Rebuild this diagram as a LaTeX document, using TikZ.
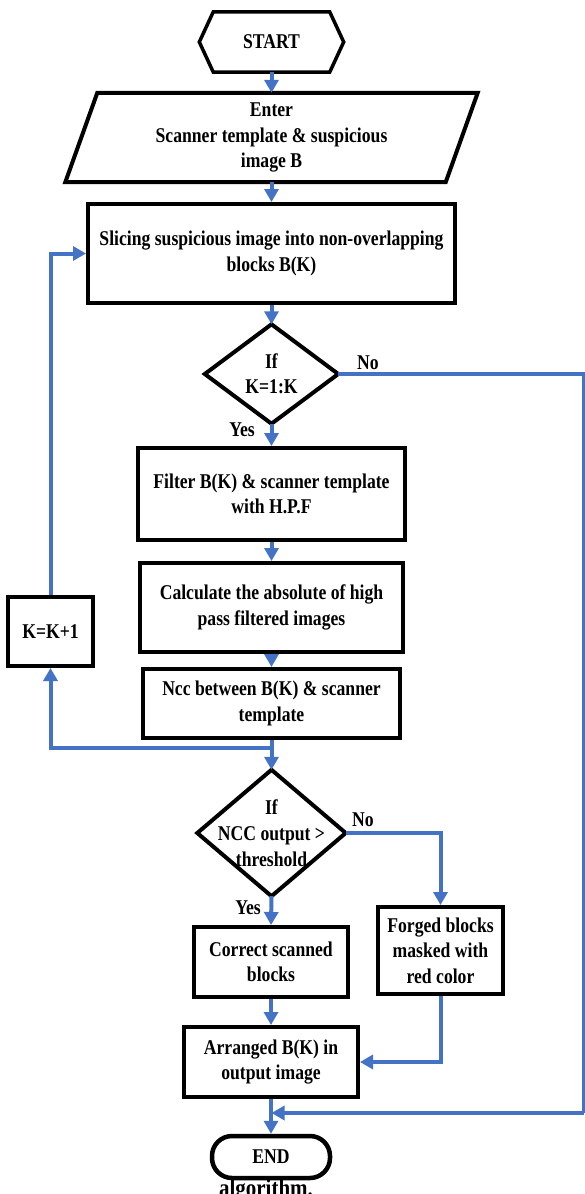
\documentclass[tikz,border=0pt]{standalone}
\usepackage{fontspec}
\setmainfont{Liberation Serif}[FakeStretch=0.84]
\usetikzlibrary{arrows.meta}
\definecolor{flowblue}{RGB}{68,114,196}
\tikzset{
  txt/.style={font=\bfseries\fontsize{21}{25.5}\selectfont, align=center, inner sep=0pt},
  stepbox/.style={txt, draw=black, line width=4pt, fill=white},
  shapeonly/.style={txt, draw=none},
  outline/.style={draw=black, line width=4pt, line join=miter},
  flow/.style={draw=flowblue, line width=4pt},
  flowarrow/.style={flow, -{Triangle[length=13pt,width=14pt]}},
  lbl/.style={font=\bfseries\fontsize{21}{25}\selectfont, inner sep=0pt}
}
\begin{document}
\begin{tikzpicture}[x=1pt,y=-1pt]
\useasboundingbox (0,0) rectangle (585,1194);
\fill[white] (0,0) rectangle (585,1194);

% START hexagon
\node[shapeonly, minimum width=144pt, minimum height=60pt] (start) at (271.5,42) {START};
\draw[outline, line width=3.5pt] (start.west) -- ([xshift=14pt]start.north west) -- ([xshift=-14pt]start.north east)
  -- (start.east) -- ([xshift=-14pt]start.south east) -- ([xshift=14pt]start.south west) -- cycle;

% input parallelogram
\node[shapeonly, minimum width=380pt, minimum height=89pt] (in) at (271.5,137.5) {Enter\\Scanner template \& suspicious\\image B};
\draw[outline] ([xshift=-16pt]in.south west) -- ([xshift=16pt]in.north west) -- ([xshift=16pt]in.north east)
  -- ([xshift=-16pt]in.south east) -- cycle;

\node[stepbox, minimum width=367pt, minimum height=99pt] (slice) at (271.5,253.5) {Slicing suspicious image into non-overlapping\\blocks B(K)};

% decision 1
\node[shapeonly, minimum width=133pt, minimum height=99pt] (d1) at (271.5,374) {If\\K=1:K};
\draw[outline] (d1.north) -- (d1.east) -- (d1.south) -- (d1.west) -- cycle;

\node[stepbox, minimum width=267pt, minimum height=92pt] (filter) at (271.5,494) {Filter B(K) \& scanner template\\with H.P.F};
\node[stepbox, minimum width=263pt, minimum height=89pt] (calc) at (271.5,607.5) {Calculate the absolute of high\\pass filtered images};
\node[stepbox, minimum width=257pt, minimum height=69pt] (ncc) at (271.5,703.5) {Ncc between B(K) \& scanner\\template};
\node[stepbox, minimum width=85pt, minimum height=69pt] (kbox) at (50.5,631.5) {K=K+1};

% decision 2
\node[shapeonly, minimum width=148pt, minimum height=126pt, font=\bfseries\fontsize{21}{26}\selectfont] (d2) at (271.5,833) {If\\NCC output >\\threshold};
\draw[outline] (d2.north) -- (d2.east) -- (d2.south) -- (d2.west) -- cycle;

\node[stepbox, minimum width=154pt, minimum height=70pt] (correct) at (271,962) {Correct scanned\\blocks};
\node[stepbox, minimum width=125pt, minimum height=87pt] (forged) at (440.5,950.5) {Forged blocks\\masked with\\red color};
\node[stepbox, minimum width=174pt, minimum height=70pt] (arranged) at (271,1062) {Arranged B(K) in\\output image};

% caption fragment, partly hidden
\node[lbl, font=\bfseries\fontsize{25}{28}\selectfont, anchor=base] (cap) at (266,1196) {algorithm.};
\node[stepbox, line width=4.5pt, rounded corners=20pt, minimum width=118pt, minimum height=42pt] (finish) at (271,1157) {END};

% coordinates
\coordinate (j1) at (271.5,748);
\coordinate (rtop) at (583.5,374);
\coordinate (rbot) at (583.5,1113);
\coordinate (j2) at (271.5,1113);

% connectors
\draw[flowarrow] (start.south) -- (in.north);
\draw[flowarrow] (in.south) -- (slice.north);
\draw[flowarrow] (slice.south) -- (d1.north);
\draw[flowarrow] (d1.south) -- (filter.north);
\draw[flowarrow] (filter.south) -- (calc.north);
\draw[flowarrow] (calc.south) -- (ncc.north);
\draw[flowarrow] (ncc.south) -- (d2.north);
\draw[flowarrow] (j1) -| (kbox.south);
\draw[flowarrow] (kbox.north) |- (slice.west);
\draw[flowarrow] (d2.east) -| (forged.north);
\draw[flowarrow] (d2.south) -- (correct.north);
\draw[flowarrow] (correct.south) -- (arranged.north);
\draw[flowarrow] (forged.south) |- (arranged.east);
\draw[flowarrow] (arranged.south) -- (finish.north);
\draw[flow] (d1.east) -- (rtop) -- (rbot);
\draw[flowarrow] (rbot) -- (j2);

% labels
\node[lbl] (no1) at (368,363) {No};
\node[lbl] (yes1) at (242,430) {Yes};
\node[lbl] (no2) at (363,820) {No};
\node[lbl] (yes2) at (248,908) {Yes};
\end{tikzpicture}
\end{document}
